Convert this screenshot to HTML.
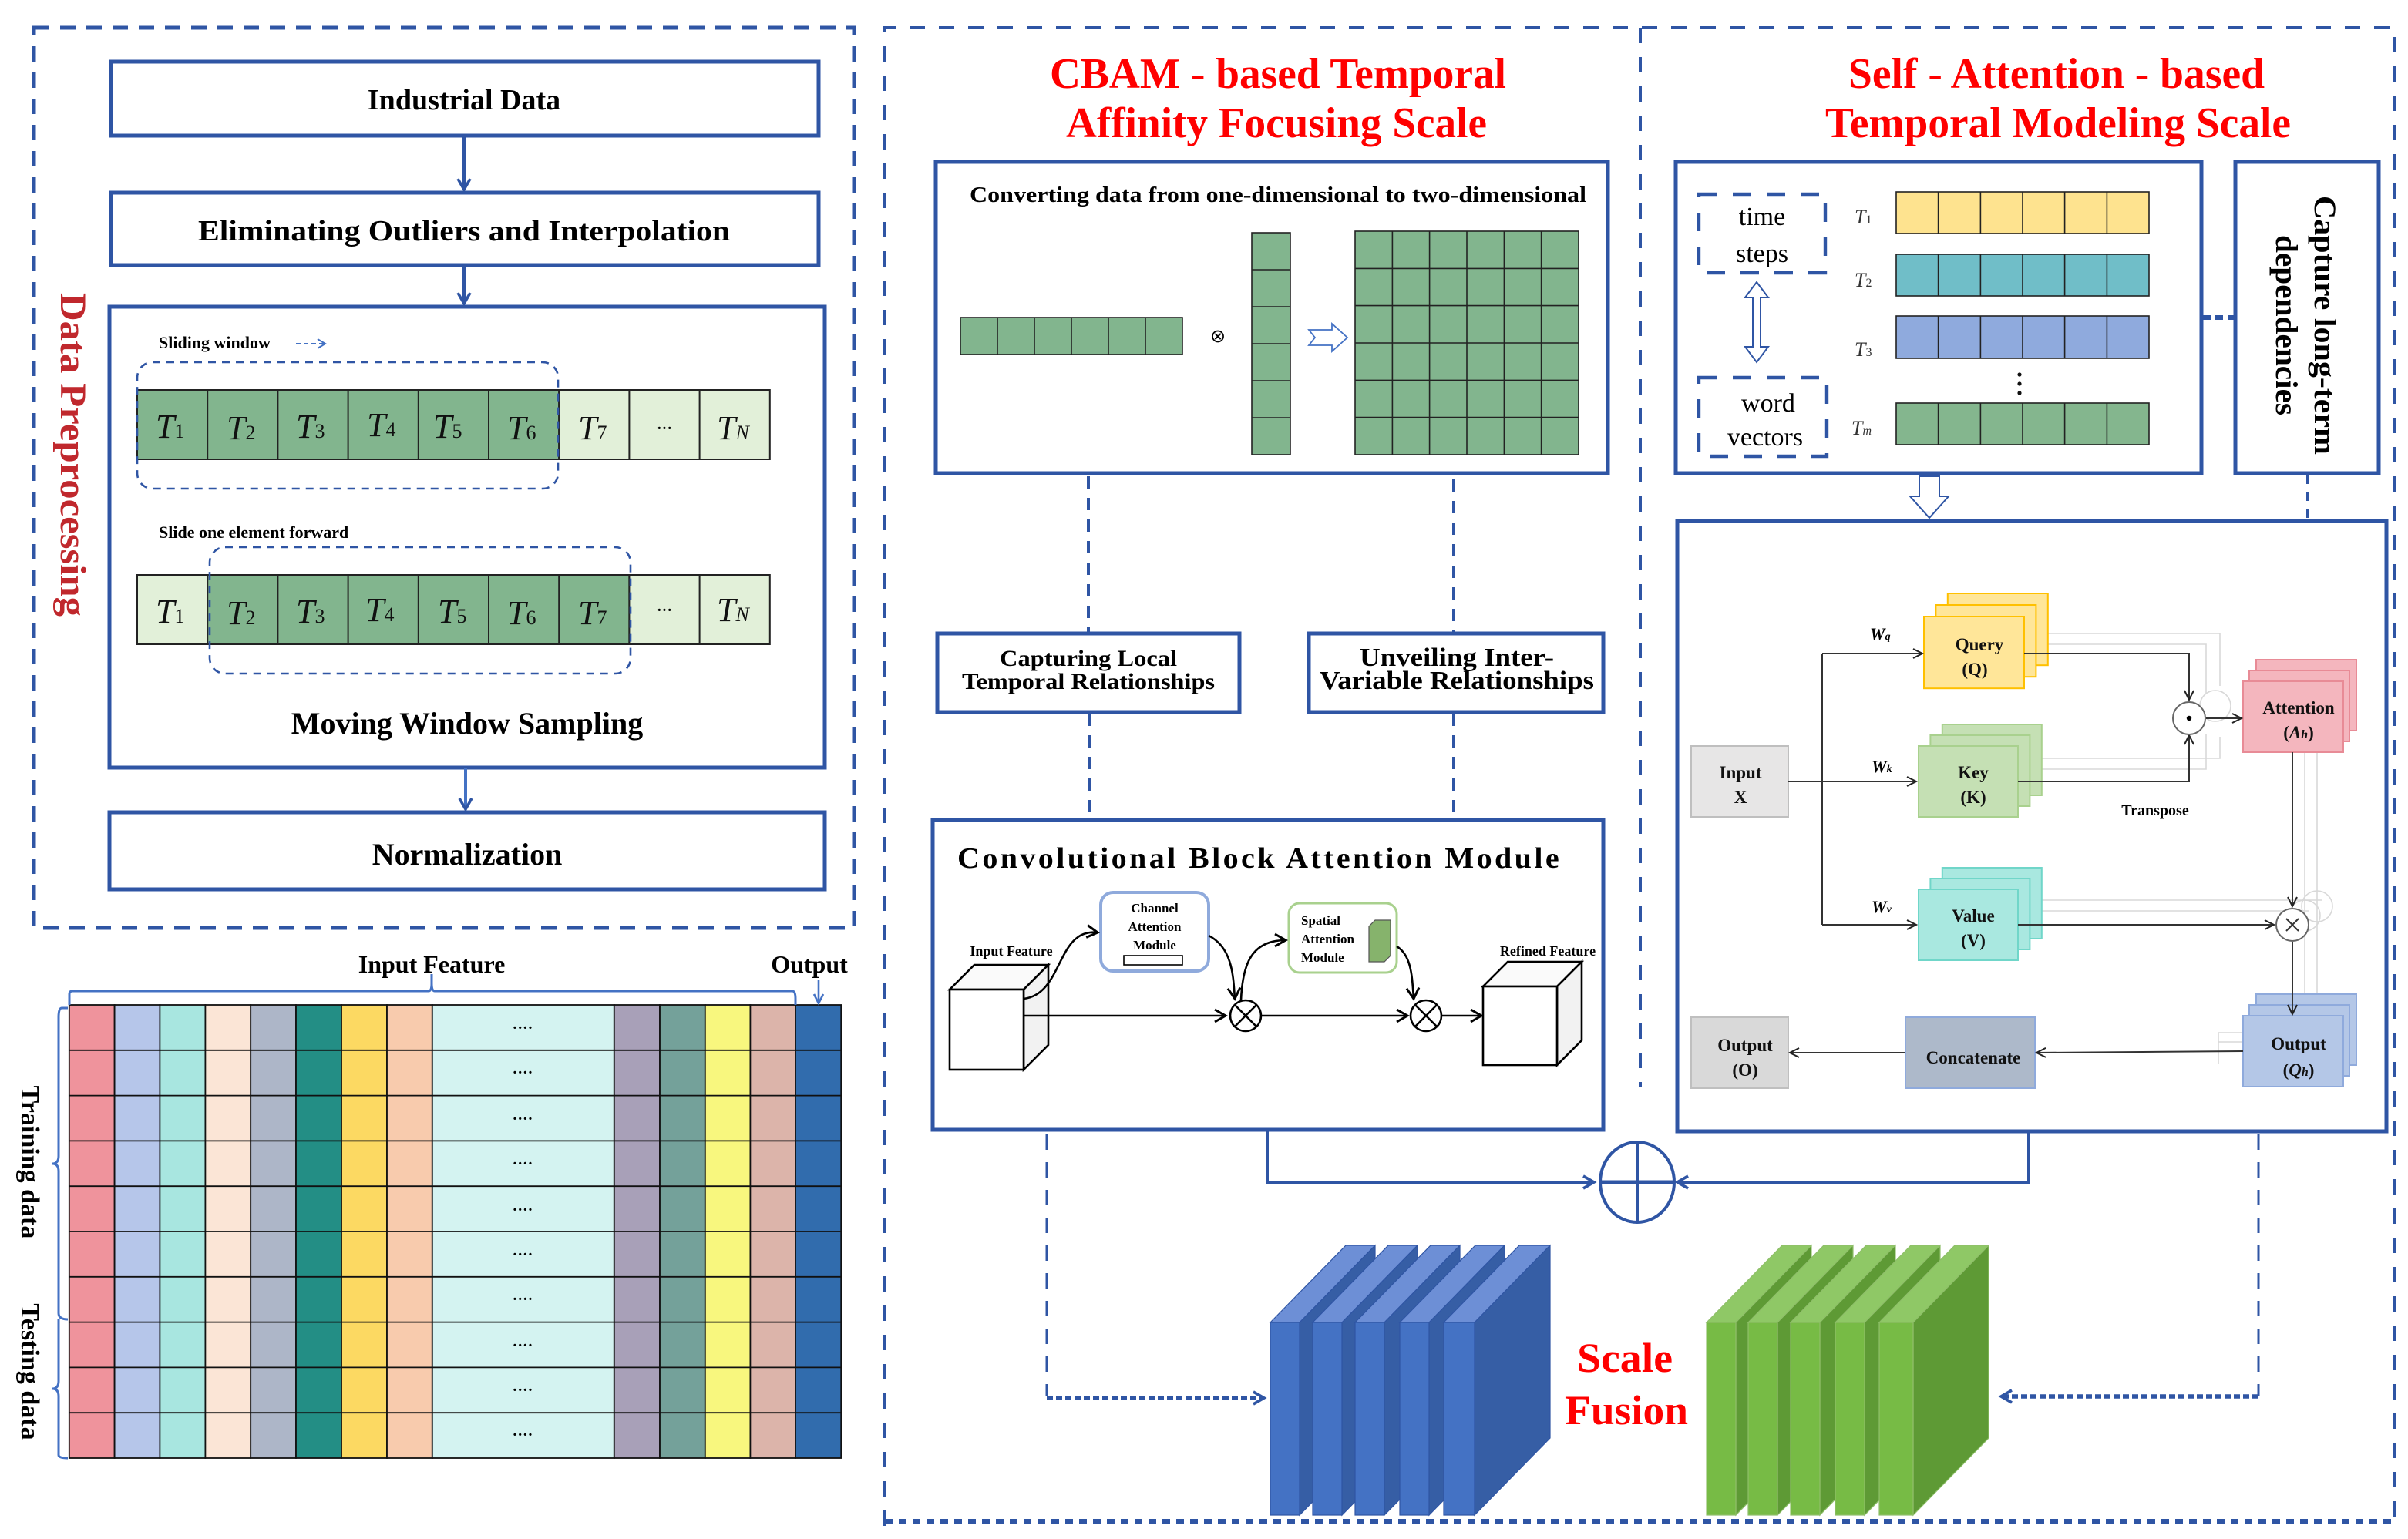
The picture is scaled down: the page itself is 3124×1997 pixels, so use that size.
<!DOCTYPE html>
<html><head><meta charset="utf-8"><style>
html,body{margin:0;padding:0;background:#fff;}
svg{display:block;}
text{font-family:"Liberation Serif",serif;}
</style></head><body>
<svg width="3124" height="1997" viewBox="0 0 1562 998.5" xmlns="http://www.w3.org/2000/svg">
<defs>
<marker id="ab" markerWidth="10" markerHeight="10" refX="8" refY="5" orient="auto" markerUnits="userSpaceOnUse"><path d="M1,1 L8,5 L1,9" fill="none" stroke="#2f55a4" stroke-width="1.8"/></marker>
<marker id="ak" markerWidth="8" markerHeight="8" refX="7" refY="4" orient="auto" markerUnits="userSpaceOnUse"><path d="M1,1 L7,4 L1,7" fill="none" stroke="#222" stroke-width="1"/></marker>
<marker id="akb" markerWidth="10" markerHeight="10" refX="8" refY="5" orient="auto" markerUnits="userSpaceOnUse"><path d="M1,1 L8,5 L1,9" fill="none" stroke="#000" stroke-width="1.5"/></marker>
</defs>
<rect width="1562" height="998.5" fill="#fff"/>

<!-- ============ LEFT PANEL ============ -->
<rect x="22" y="18" width="532" height="584" fill="none" stroke="#2f55a4" stroke-width="2.5" stroke-dasharray="10,7"/>
<text x="45" y="295" transform="rotate(90 45 295)" text-anchor="middle" dominant-baseline="middle" font-size="24" font-weight="bold" fill="#c0282d" textLength="210" lengthAdjust="spacingAndGlyphs">Data Preprocessing</text>

<rect x="72" y="40" width="459" height="48" fill="#fff" stroke="#2f55a4" stroke-width="2.5"/>
<text x="301" y="71" text-anchor="middle" font-size="19" font-weight="bold">Industrial Data</text>
<line x1="301" y1="88" x2="301" y2="123" stroke="#2f55a4" stroke-width="2.2" marker-end="url(#ab)"/>
<rect x="72" y="125" width="459" height="47" fill="#fff" stroke="#2f55a4" stroke-width="2.5"/>
<text x="301" y="156" text-anchor="middle" font-size="19" font-weight="bold" textLength="345" lengthAdjust="spacingAndGlyphs">Eliminating Outliers and Interpolation</text>
<line x1="301" y1="172" x2="301" y2="197" stroke="#2f55a4" stroke-width="2.2" marker-end="url(#ab)"/>
<rect x="71" y="199" width="464" height="299" fill="#fff" stroke="#2f55a4" stroke-width="2.5"/>
<line x1="302" y1="498" x2="302" y2="525" stroke="#4472c4" stroke-width="2" marker-end="url(#ab)"/>
<rect x="71" y="527" width="464" height="50" fill="#fff" stroke="#2f55a4" stroke-width="2.5"/>
<text x="303" y="561" text-anchor="middle" font-size="20" font-weight="bold">Normalization</text>

<text x="103" y="226" font-size="11" font-weight="bold">Sliding window</text>
<line x1="192" y1="223" x2="210" y2="223" stroke="#4472c4" stroke-width="1" stroke-dasharray="3,2"/>
<path d="M206,220 L211,223 L206,226" fill="none" stroke="#4472c4" stroke-width="1"/>
<text x="103" y="349" font-size="11" font-weight="bold">Slide one element forward</text>

<g stroke="#222" stroke-width="1">
<rect x="89" y="253" width="273.6" height="45" fill="#82b58e"/>
<rect x="362.6" y="253" width="136.8" height="45" fill="#e2f0d9"/>
<line x1="134.6" y1="253" x2="134.6" y2="298"/><line x1="180.2" y1="253" x2="180.2" y2="298"/><line x1="225.8" y1="253" x2="225.8" y2="298"/><line x1="271.4" y1="253" x2="271.4" y2="298"/><line x1="317" y1="253" x2="317" y2="298"/><line x1="408.2" y1="253" x2="408.2" y2="298"/><line x1="453.8" y1="253" x2="453.8" y2="298"/>
<rect x="89" y="373" width="45.6" height="45" fill="#e2f0d9"/>
<rect x="134.6" y="373" width="273.6" height="45" fill="#82b58e"/>
<rect x="408.2" y="373" width="91.2" height="45" fill="#e2f0d9"/>
<line x1="180.2" y1="373" x2="180.2" y2="418"/><line x1="225.8" y1="373" x2="225.8" y2="418"/><line x1="271.4" y1="373" x2="271.4" y2="418"/><line x1="317" y1="373" x2="317" y2="418"/><line x1="362.6" y1="373" x2="362.6" y2="418"/><line x1="453.8" y1="373" x2="453.8" y2="418"/>
</g>
<g font-size="22" font-style="italic" fill="#111">
<text x="101" y="284">T<tspan font-size="13" font-style="normal">1</tspan></text>
<text x="147" y="285">T<tspan font-size="13" font-style="normal">2</tspan></text>
<text x="192" y="284">T<tspan font-size="13" font-style="normal">3</tspan></text>
<text x="238" y="283">T<tspan font-size="13" font-style="normal">4</tspan></text>
<text x="281" y="284">T<tspan font-size="13" font-style="normal">5</tspan></text>
<text x="329" y="285">T<tspan font-size="13" font-style="normal">6</tspan></text>
<text x="375" y="285">T<tspan font-size="13" font-style="normal">7</tspan></text>
<text x="465" y="285">T<tspan font-size="13">N</tspan></text>
<text x="101" y="404">T<tspan font-size="13" font-style="normal">1</tspan></text>
<text x="147" y="405">T<tspan font-size="13" font-style="normal">2</tspan></text>
<text x="192" y="404">T<tspan font-size="13" font-style="normal">3</tspan></text>
<text x="237" y="403">T<tspan font-size="13" font-style="normal">4</tspan></text>
<text x="284" y="404">T<tspan font-size="13" font-style="normal">5</tspan></text>
<text x="329" y="405">T<tspan font-size="13" font-style="normal">6</tspan></text>
<text x="375" y="405">T<tspan font-size="13" font-style="normal">7</tspan></text>
<text x="465" y="403">T<tspan font-size="13">N</tspan></text>
</g>
<text x="431" y="281" text-anchor="middle" font-size="10" font-weight="bold">···</text>
<text x="431" y="399" text-anchor="middle" font-size="10" font-weight="bold">···</text>
<rect x="89" y="235" width="273" height="82" rx="10" fill="none" stroke="#2f55a4" stroke-width="1.3" stroke-dasharray="5,4"/>
<rect x="136" y="355" width="273" height="82" rx="10" fill="none" stroke="#2f55a4" stroke-width="1.3" stroke-dasharray="5,4"/>
<text x="303" y="476" text-anchor="middle" font-size="20" font-weight="bold">Moving Window Sampling</text>

<!-- ============ TABLE ============ -->
<g stroke="#111" stroke-width="0.9">
<rect x="44.9" y="652" width="29.4" height="294" fill="#ef939c"/>
<rect x="74.3" y="652" width="29.4" height="294" fill="#b6c6ea"/>
<rect x="103.7" y="652" width="29.5" height="294" fill="#a8e6e0"/>
<rect x="133.2" y="652" width="29.4" height="294" fill="#fbe5d6"/>
<rect x="162.6" y="652" width="29.4" height="294" fill="#adb6c8"/>
<rect x="192" y="652" width="29.5" height="294" fill="#238e85"/>
<rect x="221.5" y="652" width="29.5" height="294" fill="#fcd962"/>
<rect x="251" y="652" width="29.4" height="294" fill="#f8cbad"/>
<rect x="280.4" y="652" width="118" height="294" fill="#d4f3f1"/>
<rect x="398.4" y="652" width="29.6" height="294" fill="#a8a0b8"/>
<rect x="428" y="652" width="29.4" height="294" fill="#74a19a"/>
<rect x="457.4" y="652" width="29.3" height="294" fill="#f8f77e"/>
<rect x="486.7" y="652" width="29.3" height="294" fill="#dcb4aa"/>
<rect x="516" y="652" width="29.6" height="294" fill="#316cad"/>
<line x1="44.9" y1="681.4" x2="545.6" y2="681.4"/><line x1="44.9" y1="710.8" x2="545.6" y2="710.8"/><line x1="44.9" y1="740.2" x2="545.6" y2="740.2"/><line x1="44.9" y1="769.6" x2="545.6" y2="769.6"/><line x1="44.9" y1="799" x2="545.6" y2="799"/><line x1="44.9" y1="828.4" x2="545.6" y2="828.4"/><line x1="44.9" y1="857.8" x2="545.6" y2="857.8"/><line x1="44.9" y1="887.2" x2="545.6" y2="887.2"/><line x1="44.9" y1="916.6" x2="545.6" y2="916.6"/>
</g>
<g font-size="10" font-weight="bold" text-anchor="middle">
<text x="339" y="670">····</text><text x="339" y="699">····</text><text x="339" y="729">····</text><text x="339" y="758">····</text><text x="339" y="788">····</text><text x="339" y="817">····</text><text x="339" y="846">····</text><text x="339" y="876">····</text><text x="339" y="905">····</text><text x="339" y="934">····</text>
</g>
<path d="M45,652 L45,645 Q45,643 47,643 L278,643 Q280,643 280,638 L280,632 M280,638 Q280,643 282,643 L514,643 Q516,643 516,648 L516,652" fill="none" stroke="#4472c4" stroke-width="1.5"/>
<text x="280" y="631" text-anchor="middle" font-size="16" font-weight="bold">Input Feature</text>
<text x="525" y="631" text-anchor="middle" font-size="16" font-weight="bold">Output</text>
<line x1="531" y1="636" x2="531" y2="650" stroke="#4472c4" stroke-width="1.3"/>
<path d="M528,645 L531,651 L534,645" fill="none" stroke="#4472c4" stroke-width="1.3"/>
<path d="M44,654 L40,654 Q38,654 38,660 L38,750 Q38,755 34,755 Q38,755 38,760 L38,852 Q38,856 44,856 M38,856 L38,896 Q38,901 34,901 Q38,901 38,906 L38,944 Q38,946 44,946" fill="none" stroke="#4472c4" stroke-width="1.5"/>
<text x="18" y="754" transform="rotate(90 18 754)" text-anchor="middle" dominant-baseline="middle" font-size="17" font-weight="bold">Training data</text>
<text x="18" y="890" transform="rotate(90 18 890)" text-anchor="middle" dominant-baseline="middle" font-size="17" font-weight="bold">Testing data</text>

<!-- ============ OUTER DASHED (MIDDLE/RIGHT) ============ -->
<path d="M574,990 L574,18 L1553,18 L1553,990" fill="none" stroke="#2f55a4" stroke-width="2" stroke-dasharray="10,9"/>
<line x1="574" y1="987" x2="1553" y2="987" stroke="#2f55a4" stroke-width="3" stroke-dasharray="5,4"/>
<line x1="1064" y1="18" x2="1064" y2="705" stroke="#2f55a4" stroke-width="2" stroke-dasharray="10,9"/>

<g font-size="28" font-weight="bold" fill="#ff0000" text-anchor="middle">
<text x="829" y="57" textLength="296" lengthAdjust="spacingAndGlyphs">CBAM - based Temporal</text>
<text x="828" y="89" textLength="273" lengthAdjust="spacingAndGlyphs">Affinity Focusing Scale</text>
<text x="1334" y="57" textLength="270" lengthAdjust="spacingAndGlyphs">Self - Attention - based</text>
<text x="1335" y="89" textLength="302" lengthAdjust="spacingAndGlyphs">Temporal Modeling Scale</text>
</g>

<!-- Converting box -->
<rect x="607" y="105" width="436" height="202" fill="#fff" stroke="#2f55a4" stroke-width="2.5"/>
<text x="829" y="131" text-anchor="middle" font-size="14" font-weight="bold" textLength="400" lengthAdjust="spacingAndGlyphs">Converting data from one-dimensional to two-dimensional</text>
<g stroke="#222" stroke-width="0.8">
<rect x="623" y="206" width="144" height="24" fill="#82b58e"/>
<line x1="647" y1="206" x2="647" y2="230"/><line x1="671" y1="206" x2="671" y2="230"/><line x1="695" y1="206" x2="695" y2="230"/><line x1="719" y1="206" x2="719" y2="230"/><line x1="743" y1="206" x2="743" y2="230"/>
<rect x="812" y="151" width="25" height="144" fill="#82b58e"/>
<line x1="812" y1="175" x2="837" y2="175"/><line x1="812" y1="199" x2="837" y2="199"/><line x1="812" y1="223" x2="837" y2="223"/><line x1="812" y1="247" x2="837" y2="247"/><line x1="812" y1="271" x2="837" y2="271"/>
<rect x="879" y="150" width="145" height="145" fill="#82b58e"/>
<line x1="903.2" y1="150" x2="903.2" y2="295"/><line x1="927.3" y1="150" x2="927.3" y2="295"/><line x1="951.5" y1="150" x2="951.5" y2="295"/><line x1="975.7" y1="150" x2="975.7" y2="295"/><line x1="999.8" y1="150" x2="999.8" y2="295"/>
<line x1="879" y1="174.2" x2="1024" y2="174.2"/><line x1="879" y1="198.3" x2="1024" y2="198.3"/><line x1="879" y1="222.5" x2="1024" y2="222.5"/><line x1="879" y1="246.7" x2="1024" y2="246.7"/><line x1="879" y1="270.8" x2="1024" y2="270.8"/>
</g>
<text x="790" y="222" text-anchor="middle" font-size="12">⊗</text>
<path d="M849,214 L864,214 L864,210 L874,219 L864,228 L864,224 L849,224 L853,219 Z" fill="#fff" stroke="#4472c4" stroke-width="0.9"/>

<line x1="706" y1="309" x2="706" y2="410" stroke="#2f55a4" stroke-width="2" stroke-dasharray="8,6"/>
<line x1="943" y1="311" x2="943" y2="410" stroke="#2f55a4" stroke-width="2" stroke-dasharray="8,6"/>
<rect x="608" y="411" width="196" height="51" fill="#fff" stroke="#2f55a4" stroke-width="2.5"/>
<text x="706" y="432" text-anchor="middle" font-size="15" font-weight="bold" textLength="115" lengthAdjust="spacingAndGlyphs">Capturing Local</text>
<text x="706" y="447" text-anchor="middle" font-size="15" font-weight="bold" textLength="164" lengthAdjust="spacingAndGlyphs">Temporal Relationships</text>
<rect x="849" y="411" width="191" height="51" fill="#fff" stroke="#2f55a4" stroke-width="2.5"/>
<text x="945" y="432" text-anchor="middle" font-size="17" font-weight="bold" textLength="126" lengthAdjust="spacingAndGlyphs">Unveiling Inter-</text>
<text x="945" y="447" text-anchor="middle" font-size="17" font-weight="bold" textLength="178" lengthAdjust="spacingAndGlyphs">Variable Relationships</text>
<line x1="707" y1="463" x2="707" y2="531" stroke="#2f55a4" stroke-width="2" stroke-dasharray="8,6"/>
<line x1="943" y1="463" x2="943" y2="531" stroke="#2f55a4" stroke-width="2" stroke-dasharray="8,6"/>

<!-- CBAM box -->
<rect x="605" y="532" width="435" height="201" fill="#fff" stroke="#2f55a4" stroke-width="2.5"/>
<text x="817" y="563" text-anchor="middle" font-size="19" font-weight="bold" letter-spacing="1.6" textLength="392" lengthAdjust="spacingAndGlyphs">Convolutional Block Attention Module</text>
<g stroke="#000" stroke-width="1.3" fill="#fff">
<path d="M616,642 L632,626 L680,626 L664,642 Z" fill="#fafafa"/>
<path d="M664,642 L680,626 L680,678 L664,694 Z" fill="#f2f2f2"/>
<rect x="616" y="642" width="48" height="52"/>
<path d="M962,640 L978,624 L1026,624 L1010,640 Z" fill="#fafafa"/>
<path d="M1010,640 L1026,624 L1026,675 L1010,691 Z" fill="#f2f2f2"/>
<rect x="962" y="640" width="48" height="51"/>
</g>
<text x="656" y="620" text-anchor="middle" font-size="9" font-weight="bold">Input Feature</text>
<text x="1004" y="620" text-anchor="middle" font-size="9" font-weight="bold">Refined Feature</text>
<rect x="714" y="579" width="70" height="51" rx="8" fill="#fff" stroke="#8faadc" stroke-width="2"/>
<g font-size="8.5" font-weight="bold" text-anchor="middle"><text x="749" y="592">Channel</text><text x="749" y="604">Attention</text><text x="749" y="616">Module</text></g>
<rect x="729" y="620" width="38" height="6" fill="#fff" stroke="#000" stroke-width="0.8"/>
<rect x="836" y="586" width="70" height="45" rx="7" fill="#fff" stroke="#a9d18e" stroke-width="1.5"/>
<g font-size="8.5" font-weight="bold"><text x="844" y="600">Spatial</text><text x="844" y="612">Attention</text><text x="844" y="624">Module</text></g>
<path d="M888,601 L892,597 L902,597 L902,620 L898,624 L888,624 Z" fill="#86b36c" stroke="#555" stroke-width="0.6"/>
<g fill="none" stroke="#000" stroke-width="1.3">
<line x1="664" y1="659" x2="795" y2="659" marker-end="url(#akb)"/>
<line x1="818" y1="659" x2="913" y2="659" marker-end="url(#akb)"/>
<line x1="935" y1="659" x2="961" y2="659" marker-end="url(#akb)"/>
<path d="M664,648 C690,645 685,602 712,605" marker-end="url(#akb)"/>
<path d="M784,607 C800,615 800,635 801,648" marker-end="url(#akb)"/>
<path d="M805,649 C806,625 812,610 834,610" marker-end="url(#akb)"/>
<path d="M906,614 C916,620 916,635 917,648" marker-end="url(#akb)"/>
<circle cx="808" cy="659" r="10"/><line x1="801" y1="652" x2="815" y2="666"/><line x1="815" y1="652" x2="801" y2="666"/>
<circle cx="925" cy="659" r="10"/><line x1="918" y1="652" x2="932" y2="666"/><line x1="932" y1="652" x2="918" y2="666"/>
</g>

<!-- ============ RIGHT TOP ============ -->
<rect x="1087" y="105" width="341" height="202" fill="#fff" stroke="#2f55a4" stroke-width="2.5"/>
<rect x="1450" y="105" width="93" height="202" fill="#fff" stroke="#2f55a4" stroke-width="2.5"/>
<text x="1506" y="211" transform="rotate(90 1506 211)" text-anchor="middle" dominant-baseline="middle" font-size="20" font-weight="bold" textLength="168" lengthAdjust="spacingAndGlyphs">Capture long-term</text>
<text x="1481" y="211" transform="rotate(90 1481 211)" text-anchor="middle" dominant-baseline="middle" font-size="20" font-weight="bold" textLength="117" lengthAdjust="spacingAndGlyphs">dependencies</text>
<line x1="1429" y1="206" x2="1449" y2="206" stroke="#2f55a4" stroke-width="3" stroke-dasharray="5,3"/>
<rect x="1102" y="126" width="82" height="51" fill="none" stroke="#2f55a4" stroke-width="2.2" stroke-dasharray="12,10"/>
<text x="1143" y="146" text-anchor="middle" font-size="17">time</text>
<text x="1143" y="170" text-anchor="middle" font-size="17">steps</text>
<rect x="1102" y="245" width="83" height="51" fill="none" stroke="#2f55a4" stroke-width="2.2" stroke-dasharray="12,10"/>
<text x="1147" y="267" text-anchor="middle" font-size="17">word</text>
<text x="1145" y="289" text-anchor="middle" font-size="17">vectors</text>
<path d="M1139.5,183 L1147,193 L1142,193 L1142,225 L1147,225 L1139.5,235 L1132,225 L1137,225 L1137,193 L1132,193 Z" fill="#fff" stroke="#2f55a4" stroke-width="1"/>
<g stroke="#222" stroke-width="0.8">
<rect x="1230" y="124.5" width="164" height="27" fill="#fee38f"/>
<rect x="1230" y="165" width="164" height="27" fill="#70bec8"/>
<rect x="1230" y="205" width="164" height="27.5" fill="#8faadd"/>
<rect x="1230" y="261.5" width="164" height="27" fill="#84b68e"/>
<path d="M1257.3,124.5 V151.5 M1284.7,124.5 V151.5 M1312,124.5 V151.5 M1339.3,124.5 V151.5 M1366.7,124.5 V151.5
M1257.3,165 V192 M1284.7,165 V192 M1312,165 V192 M1339.3,165 V192 M1366.7,165 V192
M1257.3,205 V232.5 M1284.7,205 V232.5 M1312,205 V232.5 M1339.3,205 V232.5 M1366.7,205 V232.5
M1257.3,261.5 V288.5 M1284.7,261.5 V288.5 M1312,261.5 V288.5 M1339.3,261.5 V288.5 M1366.7,261.5 V288.5" fill="none"/>
</g>
<g font-size="13" font-style="italic" fill="#333">
<text x="1203" y="145">T<tspan font-size="8" font-style="normal">1</tspan></text>
<text x="1203" y="186">T<tspan font-size="8" font-style="normal">2</tspan></text>
<text x="1203" y="231">T<tspan font-size="8" font-style="normal">3</tspan></text>
<text x="1201" y="282">T<tspan font-size="8">m</tspan></text>
</g>
<circle cx="1310" cy="243" r="1.3" fill="#111"/><circle cx="1310" cy="249" r="1.3" fill="#111"/><circle cx="1310" cy="255" r="1.3" fill="#111"/>
<path d="M1245,309 L1258,309 L1258,322 L1264,322 L1251.5,336 L1239,322 L1245,322 Z" fill="#fff" stroke="#2f55a4" stroke-width="1"/>
<line x1="1497" y1="308" x2="1497" y2="337" stroke="#2f55a4" stroke-width="2" stroke-dasharray="6,5"/>

<!-- Attention box -->
<rect x="1088" y="338" width="460" height="396" fill="#fff" stroke="#2f55a4" stroke-width="2.5"/>
<!-- faint lines -->
<g fill="none" stroke="#d8d8d8" stroke-width="0.8">
<path d="M1328,411 L1440,411 L1440,445"/><path d="M1320,418 L1431,418 L1431,450"/>
<path d="M1324,492 L1440,492 L1440,478"/><path d="M1317,499 L1431,499 L1431,476"/>
<path d="M1324,584 L1506,584"/><path d="M1317,591 L1498,591"/>
<path d="M1503,488 L1503,650"/><path d="M1495,488 L1495,655"/>
<path d="M1455,670 L1439,670 L1439,690"/><path d="M1455,676 L1439,676"/>
<circle cx="1437" cy="458" r="10"/><circle cx="1503" cy="588" r="10"/><circle cx="1495" cy="594" r="10"/>
</g>
<g stroke-width="1">
<rect x="1263.4" y="385" width="65" height="46.6" fill="#ffe699" stroke="#ffc000"/>
<rect x="1255.7" y="392.5" width="65" height="46.6" fill="#ffe699" stroke="#ffc000"/>
<rect x="1248" y="400" width="65" height="46.6" fill="#ffe699" stroke="#ffc000"/>
<rect x="1259.9" y="470" width="64.5" height="46" fill="#c5e0b4" stroke="#a9d18e"/>
<rect x="1252.2" y="477" width="64.5" height="46" fill="#c5e0b4" stroke="#a9d18e"/>
<rect x="1244.5" y="484" width="64.5" height="46" fill="#c5e0b4" stroke="#a9d18e"/>
<rect x="1259.9" y="563" width="64.5" height="46" fill="#a9e8e0" stroke="#70d6c9"/>
<rect x="1252.2" y="570" width="64.5" height="46" fill="#a9e8e0" stroke="#70d6c9"/>
<rect x="1244.5" y="577" width="64.5" height="46" fill="#a9e8e0" stroke="#70d6c9"/>
<rect x="1463.5" y="428" width="65" height="46" fill="#f4b6be" stroke="#e88b96"/>
<rect x="1459" y="435" width="65" height="46" fill="#f4b6be" stroke="#e88b96"/>
<rect x="1455" y="442" width="65" height="46" fill="#f4b6be" stroke="#e88b96"/>
<rect x="1463.5" y="645" width="65" height="46" fill="#b4c7e7" stroke="#8faadc"/>
<rect x="1459" y="652" width="65" height="46" fill="#b4c7e7" stroke="#8faadc"/>
<rect x="1455" y="659" width="65" height="46" fill="#b4c7e7" stroke="#8faadc"/>
<rect x="1097" y="484" width="63" height="46" fill="#e7e6e6" stroke="#bfbfbf"/>
<rect x="1097" y="660" width="63" height="46" fill="#d9d9d9" stroke="#bfbfbf"/>
<rect x="1236" y="660" width="84" height="46" fill="#adb9ca" stroke="#8faadc"/>
</g>
<g fill="none" stroke="#333" stroke-width="1">
<path d="M1182,424 L1182,600"/>
<line x1="1182" y1="424" x2="1247" y2="424" marker-end="url(#ak)"/>
<line x1="1160" y1="507" x2="1243" y2="507" marker-end="url(#ak)"/>
<line x1="1182" y1="600" x2="1243" y2="600" marker-end="url(#ak)"/>
<path d="M1313,424 L1420,424 L1420,454" marker-end="url(#ak)"/>
<path d="M1309,507 L1420,507 L1420,477" marker-end="url(#ak)"/>
<line x1="1431" y1="466" x2="1454" y2="466" marker-end="url(#ak)"/>
<line x1="1487" y1="488" x2="1487" y2="588" marker-end="url(#ak)"/>
<line x1="1309" y1="600" x2="1475" y2="600" marker-end="url(#ak)"/>
<line x1="1487" y1="611" x2="1487" y2="658" marker-end="url(#ak)"/>
<line x1="1455" y1="682" x2="1321" y2="683" marker-end="url(#ak)"/>
<line x1="1236" y1="683" x2="1161" y2="683" marker-end="url(#ak)"/>
<circle cx="1420" cy="466" r="10.5" fill="#fff" stroke="#666"/>
<circle cx="1487" cy="600" r="10.5" fill="#fff" stroke="#666"/>
<line x1="1483" y1="596" x2="1491" y2="604"/><line x1="1491" y1="596" x2="1483" y2="604"/>
</g>
<circle cx="1420" cy="466" r="1.6" fill="#000"/>
<g font-size="11.5" font-weight="bold" text-anchor="middle" fill="#111">
<text x="1129" y="505">Input</text><text x="1129" y="521">X</text>
<text x="1284" y="422">Query</text><text x="1281" y="438">(Q)</text>
<text x="1280" y="505">Key</text><text x="1280" y="521">(K)</text>
<text x="1280" y="598">Value</text><text x="1280" y="614">(V)</text>
<text x="1491" y="463">Attention</text><text x="1491" y="479">(<tspan font-style="italic">A<tspan font-size="8">h</tspan></tspan>)</text>
<text x="1491" y="681">Output</text><text x="1491" y="698">(<tspan font-style="italic">Q<tspan font-size="8">h</tspan></tspan>)</text>
<text x="1132" y="682">Output</text><text x="1132" y="698">(O)</text>
<text x="1280" y="690">Concatenate</text>
</g>
<g font-size="11" font-weight="bold" font-style="italic">
<text x="1213" y="415">W<tspan font-size="7">q</tspan></text>
<text x="1214" y="501">W<tspan font-size="7">k</tspan></text>
<text x="1214" y="592">W<tspan font-size="7">v</tspan></text>
</g>
<text x="1398" y="529" text-anchor="middle" font-size="10" font-weight="bold">Transpose</text>

<!-- ============ FUSION ============ -->
<g fill="none" stroke="#2f55a4" stroke-width="2">
<path d="M822,734 L822,767 L1034,767" marker-end="url(#ab)"/>
<path d="M1316,734 L1316,767 L1088,767" marker-end="url(#ab)"/>
<ellipse cx="1062" cy="767" rx="24" ry="26"/>
<line x1="1062" y1="741" x2="1062" y2="793"/>
<line x1="1038" y1="767" x2="1086" y2="767" stroke-width="2.5"/>
</g>
<line x1="679" y1="736" x2="679" y2="906" stroke="#2f55a4" stroke-width="1.5" stroke-dasharray="10,8"/>
<line x1="679" y1="907" x2="820" y2="907" stroke="#2f55a4" stroke-width="2.8" stroke-dasharray="4,2" marker-end="url(#ab)"/>
<line x1="1465" y1="736" x2="1465" y2="906" stroke="#2f55a4" stroke-width="1.5" stroke-dasharray="10,8"/>
<line x1="1465" y1="906" x2="1298" y2="906" stroke="#2f55a4" stroke-width="2.8" stroke-dasharray="4,2" marker-end="url(#ab)"/>

<g stroke="#2f55a4" stroke-width="0.6">
<path d="M824,858 L873,808 L892,808 L843,858Z" fill="#6d8fd6"/><path d="M843,858 L892,808 L892,933 L843,983Z" fill="#365ea5"/><rect x="824" y="858" width="19" height="125" fill="#4472c4"/>
<path d="M851.5,858 L900.5,808 L919.5,808 L870.5,858Z" fill="#6d8fd6"/><path d="M870.5,858 L919.5,808 L919.5,933 L870.5,983Z" fill="#365ea5"/><rect x="851.5" y="858" width="19" height="125" fill="#4472c4"/>
<path d="M879,858 L928,808 L947,808 L898,858Z" fill="#6d8fd6"/><path d="M898,858 L947,808 L947,933 L898,983Z" fill="#365ea5"/><rect x="879" y="858" width="19" height="125" fill="#4472c4"/>
<path d="M908,858 L957,808 L976,808 L927,858Z" fill="#6d8fd6"/><path d="M927,858 L976,808 L976,933 L927,983Z" fill="#365ea5"/><rect x="908" y="858" width="19" height="125" fill="#4472c4"/>
<path d="M936.5,858 L985.5,808 L1005.5,808 L956.5,858Z" fill="#6d8fd6"/><path d="M956.5,858 L1005.5,808 L1005.5,933 L956.5,983Z" fill="#365ea5"/><rect x="936.5" y="858" width="20" height="125" fill="#4472c4"/>
</g>
<g stroke="#8fbf6a" stroke-width="0.6">
<path d="M1107,858 L1156,808 L1175,808 L1126,858Z" fill="#8fc866"/><path d="M1126,858 L1175,808 L1175,933 L1126,983Z" fill="#5e9a35"/><rect x="1107" y="858" width="19" height="125" fill="#77bb45"/>
<path d="M1134,858 L1183,808 L1202,808 L1153,858Z" fill="#8fc866"/><path d="M1153,858 L1202,808 L1202,933 L1153,983Z" fill="#5e9a35"/><rect x="1134" y="858" width="19" height="125" fill="#77bb45"/>
<path d="M1161.5,858 L1210.5,808 L1229.5,808 L1180.5,858Z" fill="#8fc866"/><path d="M1180.5,858 L1229.5,808 L1229.5,933 L1180.5,983Z" fill="#5e9a35"/><rect x="1161.5" y="858" width="19" height="125" fill="#77bb45"/>
<path d="M1190.5,858 L1239.5,808 L1258.5,808 L1209.5,858Z" fill="#8fc866"/><path d="M1209.5,858 L1258.5,808 L1258.5,933 L1209.5,983Z" fill="#5e9a35"/><rect x="1190.5" y="858" width="19" height="125" fill="#77bb45"/>
<path d="M1219,858 L1268,808 L1290,808 L1241,858Z" fill="#8fc866"/><path d="M1241,858 L1290,808 L1290,933 L1241,983Z" fill="#5e9a35"/><rect x="1219" y="858" width="22" height="125" fill="#77bb45"/>
</g>
<text x="1054" y="890" text-anchor="middle" font-size="27" font-weight="bold" fill="#ff0000" textLength="62" lengthAdjust="spacingAndGlyphs">Scale</text>
<text x="1055" y="924" text-anchor="middle" font-size="27" font-weight="bold" fill="#ff0000" textLength="80" lengthAdjust="spacingAndGlyphs">Fusion</text>
</svg>
</body></html>
